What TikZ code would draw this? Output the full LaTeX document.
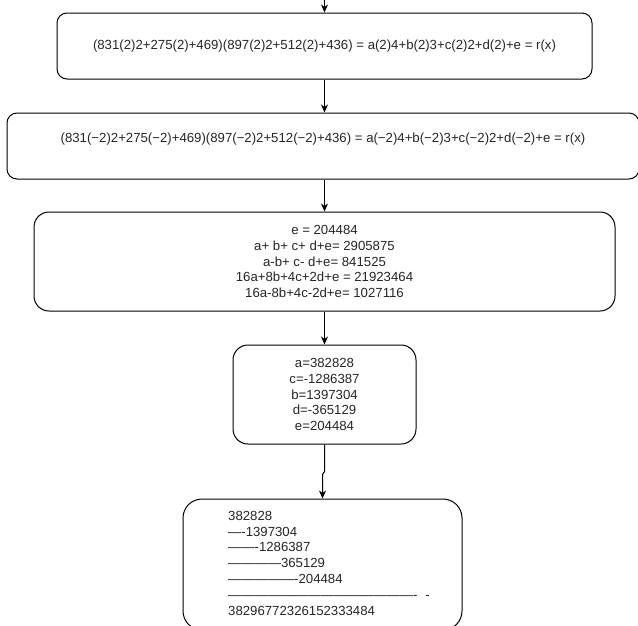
\documentclass[tikz,border=0pt]{standalone}
\usepackage{fontspec}
\setmainfont{Liberation Sans}
\usetikzlibrary{arrows.meta}

\tikzset{
  flowbox/.style={draw,line width=1pt,rounded corners=#1,inner sep=0pt,align=center,
    text=black!85,font=\fontsize{13.2}{15.8}\selectfont},
}

\begin{document}
\begin{tikzpicture}[x=1pt,y=-1pt,>={Stealth[length=8pt,width=7pt,inset=2.5pt]},line width=1pt]
  \clip (0,0) rectangle (638,625);
  % the two evaluations, the system, its solution and the sum
  \node[flowbox=10pt,minimum width=535pt,minimum height=66pt] (evalplus) at (324.5,46)
    {(831(2)2+275(2)+469)(897(2)2+512(2)+436) = a(2)4+b(2)3+c(2)2+d(2)+e = r(x)};
  \node[flowbox=10pt,minimum width=632pt,minimum height=66pt] (evalminus) at (323,146)
    {(831(−2)2+275(−2)+469)(897(−2)2+512(−2)+436) = a(−2)4+b(−2)3+c(−2)2+d(−2)+e = r(x)\\\mbox{}};
  \node[flowbox=15pt,minimum width=581pt,minimum height=99pt] (system) at (324.5,261.5)
    {e = 204484\\a+ b+ c+ d+e= 2905875\\a-b+ c- d+e= 841525\\16a+8b+4c+2d+e = 21923464\\16a-8b+4c-2d+e= 1027116};
  \node[flowbox=15pt,minimum width=183pt,minimum height=99pt] (solution) at (324.5,394.5)
    {a=382828\\c=-1286387\\b=1397304\\d=-365129\\e=204484};
  \node[flowbox=19pt,minimum width=279pt,minimum height=131pt] (total) at (322.5,564.5)
    {\begin{tabular}{@{\hspace{13pt}}l@{}}
     382828\\—-1397304\\——-1286387\\————365129\\—————-204484\\——————————————-\hspace{8pt}-\\38296772326152333484
     \end{tabular}};
  \coordinate (entry) at (324.5,0);
  \draw[->] (entry) -- (evalplus.north);
  \draw[->] (evalplus.south) -- (evalplus.south |- evalminus.north);
  \draw[->] (evalminus.south -| system.north) -- (system.north);
  \draw[->] (system.south) -- (solution.north);
  \draw[->] (solution.south) -- ++(0,27) -- ++(-2,3) -- (total.north);
\end{tikzpicture}
\end{document}
